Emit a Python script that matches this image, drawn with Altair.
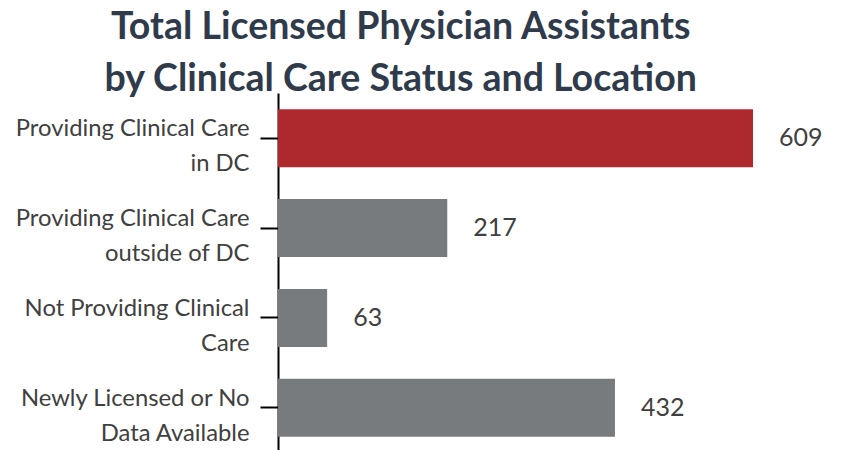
import altair as alt
import pandas as pd

categories = [
    "Providing Clinical Care\nin DC",
    "Providing Clinical Care\noutside of DC",
    "Not Providing Clinical\nCare",
    "Newly Licensed or No\nData Available",
]
values = [609, 217, 63, 432]
bar_colors = ["#AE292D", "#777B7E", "#777B7E", "#777B7E"]
title_lines = ["Total Licensed Physician Assistants", "by Clinical Care Status and Location"]

df = pd.DataFrame({"category": categories, "value": values, "color": bar_colors})

base = alt.Chart(df).encode(
    y=alt.Y(
        "category:N",
        sort=categories,
        scale=alt.Scale(paddingInner=0.355, paddingOuter=0.18),
        axis=alt.Axis(
            title=None,
            labelExpr="split(datum.value, '\\n')",
            labelFont="Lato",
            labelFontSize=23.8,
            labelColor="#404040",
            labelLineHeight=35,
            labelOffset=-9,
            labelPadding=11,
            labelLimit=400,
            tickSize=18,
            tickColor="#000000",
            tickWidth=2,
            domainColor="#000000",
            domainWidth=2,
            grid=False,
        ),
    ),
    x=alt.X("value:Q", scale=alt.Scale(domain=[0, 700]), axis=None),
)

bars = base.mark_bar().encode(color=alt.Color("color:N", scale=None))
labels = base.mark_text(align="left", baseline="middle", dx=26, font="Lato", fontSize=25, color="#404040").encode(
    text=alt.Text("value:Q")
)

chart = (
    (bars + labels)
    .properties(
        width=546,
        height=360,
        title=alt.TitleParams(
            title_lines,
            font="Lato",
            fontSize=37.5,
            fontWeight="bold",
            color="#2F3B4B",
            lineHeight=52,
            anchor="middle",
            frame="bounds",
            offset=-12,
            dx=-19,
            dy=-7,
        ),
        padding={"left": 7, "top": 0, "right": 5, "bottom": 5},
    )
    .configure_view(stroke=None)
)

chart.save("out.html", embed_options={"renderer": "svg", "actions": False})
